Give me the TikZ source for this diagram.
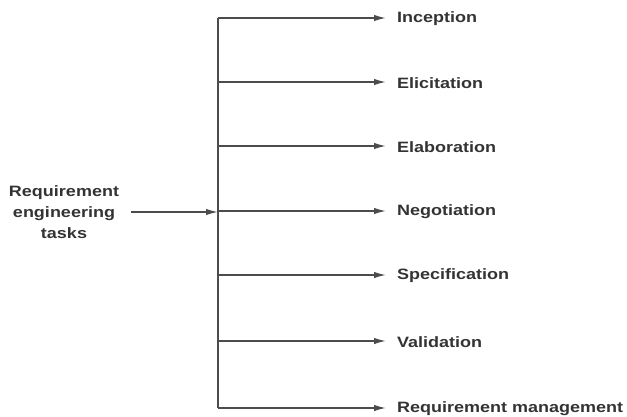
\documentclass[tikz,border=0pt]{standalone}
\usepackage{fontspec}
\setmainfont{Liberation Sans}[FakeStretch=1.2]
\usetikzlibrary{arrows.meta}
\begin{document}
\begin{tikzpicture}[x=1pt,y=-1pt,
  conn/.style={draw=black!70,line width=1.5pt},
  arr/.style={conn,-{Latex[length=12pt,width=6.5pt]}},
  lbl/.style={anchor=west,inner sep=0pt,font=\fontsize{15}{17}\selectfont\bfseries,text=black!80},
  src/.style={align=center,inner sep=0pt,font=\fontsize{15}{21}\selectfont\bfseries,text=black!80}]
\useasboundingbox (0,0) rectangle (627,416);
\coordinate (top) at (218,18);
\coordinate (bot) at (218,408);
\draw[conn] (top) -- (bot);
\node[src] (req) at (64,212) {Requirement\\engineering\\tasks};
\coordinate (join) at (218,212);
\coordinate (st) at (131,212);
\draw[arr] (st) -- (join);
\foreach \n/\y/\t in {a/18/Inception,b/82/Elicitation,c/146/Elaboration,d/211/Negotiation,e/275/Specification,f/341/Validation,g/408/Requirement management}{
  \coordinate (s\n) at (218,\y);
  \coordinate (t\n) at (386,\y);
  \node[lbl] (\n) at (397,\y+1) {\t};
  \draw[arr] (s\n) -- (t\n);
}
\end{tikzpicture}
\end{document}
